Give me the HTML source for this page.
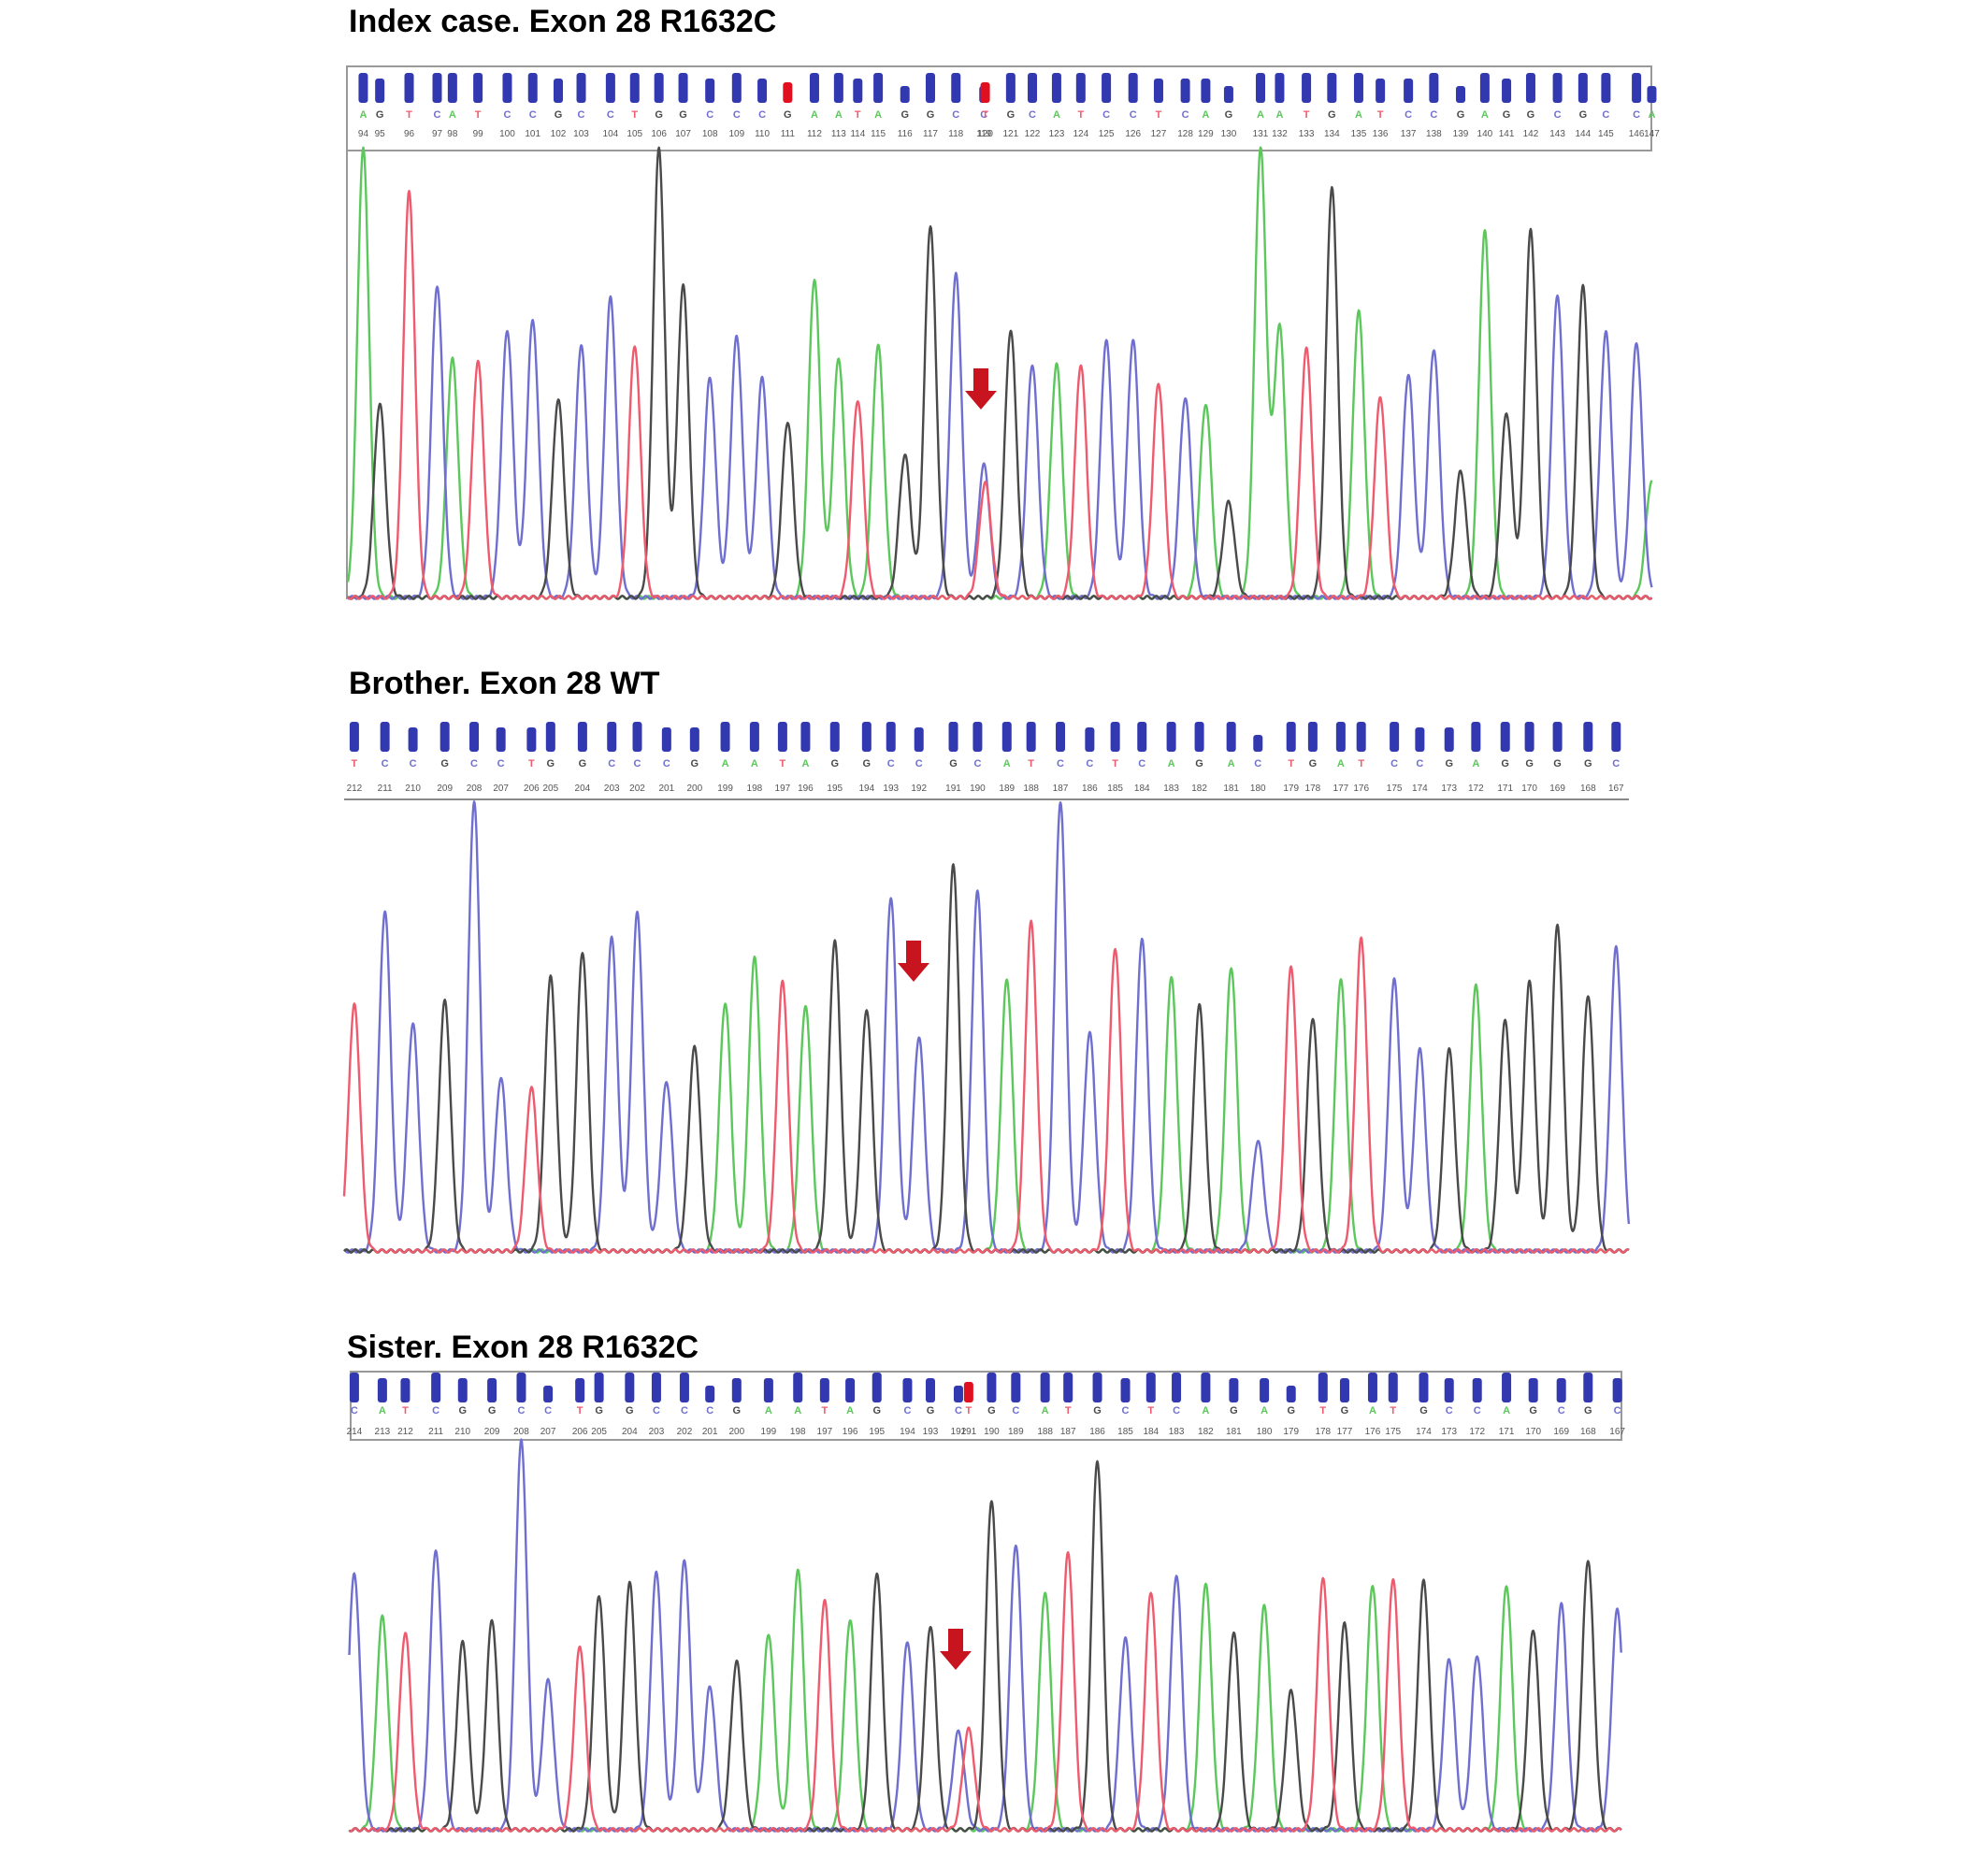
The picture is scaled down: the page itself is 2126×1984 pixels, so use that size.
<!DOCTYPE html>
<html><head><meta charset="utf-8"><style>
html,body{margin:0;padding:0;background:#fff;}
svg{display:block;}
.title{font-family:"Liberation Sans",sans-serif;font-weight:bold;font-size:34px;fill:#000;}
.num{font-family:"Liberation Sans",sans-serif;font-size:10px;fill:#555;}
.base{font-family:"Liberation Sans",sans-serif;font-size:11px;font-weight:bold;}
</style></head><body>
<svg id="chart" width="2126" height="1984" viewBox="0 0 2126 1984">
<text class="title" x="373" y="34">Index case. Exon 28 R1632C</text>
<text class="title" x="373" y="742">Brother. Exon 28 WT</text>
<text class="title" x="371" y="1452">Sister. Exon 28 R1632C</text>
</svg>
<script>
// Panel 1: peak positions (scan units), bases, intensities
const p1Pos=[285,298,321,343,355,375,398,418,438,456,479,498,517,536,557,578,598,618,639,658,673,689,710,730,750,772,773,793,810,829,848,868,889,909,930,946,964,989,1004,1025,1045,1066,1083,1105,1125,1146,1165,1182,1201,1222,1242,1260,1284,1296];
const p1Base="AGTCATCCGCCTGGCCCGAATAGGCCTGCATCCTCAGAATGATCCGAGGCGCCA";
const p1Int=[352,152,318,245,187,185,210,218,155,198,235,198,352,245,172,205,172,138,250,188,155,198,112,292,254,104,90,210,183,183,183,202,202,168,157,152,75,352,212,195,322,225,157,175,195,99,287,145,288,238,244,208,200,92];
// Panel 2
const p2Pos=[278,302,324,349,372,393,417,432,457,480,500,523,545,569,592,614,632,655,680,699,721,748,767,790,809,832,855,875,896,919,941,966,987,1013,1030,1052,1068,1094,1114,1137,1158,1181,1200,1222,1246,1268];
const p2Base="TCCGCCTGGCCCGAATAGGCCGCATCCTCAGACTGATCCGAGGGGC";
const p2Int=[193,267,178,196,353,136,128,215,235,246,265,133,160,195,230,211,193,243,190,278,168,303,283,213,258,353,171,238,245,215,193,223,86,223,183,213,245,213,158,158,208,181,211,255,201,238];
// Panel 3
const p3Pos=[278,300,318,342,363,386,409,430,455,470,494,515,537,557,578,603,626,647,667,688,712,730,752,760,778,797,820,838,861,883,903,923,946,968,992,1013,1038,1055,1077,1093,1117,1137,1159,1182,1203,1225,1246,1269];
const p3Base="CATCGGCCTGGCCCGAATAGCGCTGCATGCTCAGAGTGATGCCAGCGC";
const p3Int=[201,167,155,220,147,165,305,117,144,184,194,202,212,112,132,154,204,180,165,202,148,160,77,79,259,224,187,217,290,150,187,200,194,155,176,109,197,162,192,197,195,134,137,192,157,177,212,173];

const K=1.363;
const COL={A:'#5cc85c',C:'#6f6fd0',G:'#4a4a4a',T:'#ef5b6e'};
const svg=document.getElementById('chart');
const NS='http://www.w3.org/2000/svg';
function mk(tag,attrs){const e=document.createElementNS(NS,tag);for(const k in attrs)e.setAttribute(k,attrs[k]);svg.appendChild(e);return e;}

function drawPanel(id,pos,bases,ints,cfg){
  const ax=x=>x*K;
  const ay=v=>cfg.base-v*K;
  if(cfg.box){const b=mk('rect',{x:cfg.x0,y:cfg.hTop,width:cfg.x1-cfg.x0,height:cfg.hBot-cfg.hTop,fill:'none',stroke:'#999','stroke-width':2});
    
    }
  else{const l=mk('line',{x1:cfg.x0,x2:cfg.x1,y1:cfg.hBot,y2:cfg.hBot,stroke:'#888','stroke-width':2});
    
    }
  if(cfg.axis){const l=mk('line',{x1:cfg.x0,x2:cfg.x0,y1:cfg.hBot,y2:cfg.base,stroke:'#999','stroke-width':2});
    
    }
  let n=cfg.num0;
  pos.forEach((p,i)=>{
    const b=bases[i]||'N';
    const mut=cfg.mut.includes(i);
    const h=mut?22:(ints[i]>180?32:(ints[i]>120?26:18));
    const r=mk('rect',{x:ax(p)-5,y:cfg.barBot-h,width:10,height:h,rx:3,fill:mut?'#e01020':'#3238b0'});
    
    
    const t=mk('text',{x:ax(p),y:cfg.letY,'text-anchor':'middle',class:'base',fill:COL[b]||'#888'});
    t.textContent=b;
    
    
    const nt=mk('text',{x:ax(p),y:cfg.numY,'text-anchor':'middle',class:'num'});
    nt.textContent=String(n);n+=cfg.step;
    
    
  });
  const sig=4.6;
  ['A','C','G','T'].forEach(c=>{
    let d='';
    for(let x=pos[0]-12;x<=pos[pos.length-1]+12;x+=0.5){
      let v=1.5+Math.sin(x*0.9+c.charCodeAt(0))*1.2;
      pos.forEach((p,i)=>{if(bases[i]===c){const dx=(x-p)/sig;if(Math.abs(dx)<5)v+=ints[i]*Math.exp(-dx*dx/2);}});
      if(x<cfg.xmin||x>cfg.xmax)continue;
      d+=(d?'L':'M')+ax(x).toFixed(1)+','+ay(v).toFixed(1);
    }
    const pth=mk('path',{d:d,fill:'none',stroke:COL[c],'stroke-width':2.4,'stroke-linejoin':'round'});
    
    
  });
  const a=cfg.arrow;const g=mk('path',{d:`M${a[0]-8},${a[1]-24}h16v24h9l-17,20l-17,-20h9z`,fill:'#c8141e'});
  
  
}
drawPanel('panel1',p1Pos,p1Base,p1Int,{x0:371,x1:1766,hTop:71,hBot:161,box:true,axis:true,barBot:110,letY:126,numY:146,base:641,num0:94,step:1,mut:[17,26],arrow:[1049,418],xmin:272,xmax:1296});
drawPanel('panel2',p2Pos,p2Base,p2Int,{x0:368,x1:1742,hTop:765,hBot:855,box:false,axis:false,barBot:804,letY:820,numY:846,base:1340,num0:212,step:-1,mut:[],arrow:[977,1030],xmin:270,xmax:1278});
drawPanel('panel3',p3Pos,p3Base,p3Int,{x0:375,x1:1734,hTop:1467,hBot:1540,box:true,axis:false,barBot:1500,letY:1512,numY:1534,base:1959,num0:214,step:-1,mut:[23],arrow:[1022,1766],xmin:274,xmax:1272});
</script>
</body></html>
